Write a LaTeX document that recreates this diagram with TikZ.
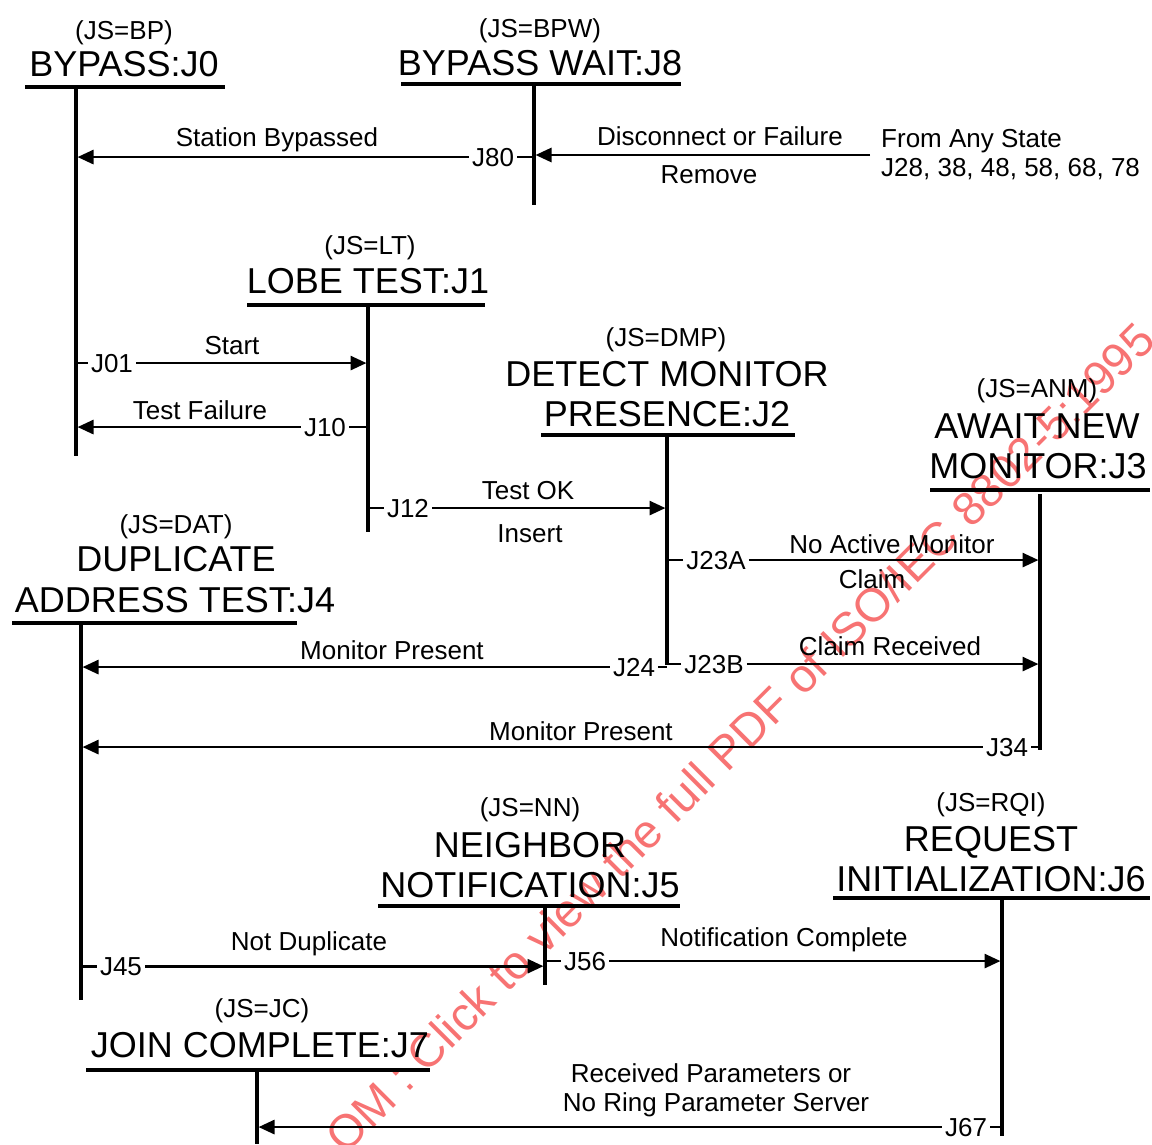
\documentclass[tikz,border=0pt]{standalone}
\usepackage{fontspec}
\setmainfont{Liberation Sans}
\usetikzlibrary{arrows.meta}
\definecolor{wm}{RGB}{245,80,80}
\begin{document}
\begin{tikzpicture}[x=1pt,y=-1pt,
  title/.style={font=\fontsize{36}{36}\selectfont, inner sep=0pt, anchor=base},
  lbl/.style={font=\fontsize{26}{26}\selectfont, inner sep=0pt, anchor=base},
  jl/.style={font=\fontsize{26}{26}\selectfont, inner sep=3pt, anchor=base},
  uline/.style={line width=3.8pt},
  life/.style={line width=3.2pt},
  tick/.style={line width=2.8pt},
  arr/.style={line width=2.8pt, -{Triangle[length=16pt,width=14pt]}, shorten >=1.5pt},
  wmark/.style={font=\fontsize{47}{47}\selectfont, inner sep=0pt, text=wm, text opacity=0.8, rotate=45, anchor=base east}]
\useasboundingbox (0,0) rectangle (1152,1144);
% watermark
\begin{scope}
\clip (0,0) rectangle (1152,1144);
\node[wmark] (wm) at (1158,343) {OM : Click to view the full PDF of ISO/IEC 8802-5:1995};
\end{scope}

% ---------- states ----------
% J0
\node[lbl]   (s0a) at (124,39) {(JS=BP)};
\node[title] (s0b) at (124,76) {BYPASS:J0};
\coordinate (u0a) at (25,87);  \coordinate (u0b) at (225,87);
\draw[uline] (u0a) -- (u0b);
\coordinate (l0a) at (76,87);  \coordinate (l0b) at (76,456);
\draw[life] (l0a) -- (l0b);
% J8
\node[lbl]   (s8a) at (540,37) {(JS=BPW)};
\node[title] (s8b) at (540,75) {BYPASS WAIT:J8};
\coordinate (u8a) at (401,84); \coordinate (u8b) at (681,84);
\draw[uline] (u8a) -- (u8b);
\coordinate (l8a) at (534,84); \coordinate (l8b) at (534,205);
\draw[life] (l8a) -- (l8b);
% J1
\node[lbl]   (s1a) at (370,254) {(JS=LT)};
\node[title] (s1b) at (368,293) {LOBE TEST:J1};
\coordinate (u1a) at (247,305); \coordinate (u1b) at (485,305);
\draw[uline] (u1a) -- (u1b);
\coordinate (l1a) at (368,305); \coordinate (l1b) at (368,532);
\draw[life] (l1a) -- (l1b);
% J2
\node[lbl]   (s2a) at (666,346) {(JS=DMP)};
\node[title] (s2b) at (667,386) {DETECT MONITOR};
\node[title] (s2c) at (667,426) {PRESENCE:J2};
\coordinate (u2a) at (541,435); \coordinate (u2b) at (795,435);
\draw[uline] (u2a) -- (u2b);
\coordinate (l2a) at (667,435); \coordinate (l2b) at (667,665);
\draw[life] (l2a) -- (l2b);
% J3
\node[lbl]   (s3a) at (1037,397) {(JS=ANM)};
\node[title] (s3b) at (1037,438) {AWAIT NEW};
\node[title] (s3c) at (1038,478) {MONITOR:J3};
\coordinate (u3a) at (930,490); \coordinate (u3b) at (1150,490);
\draw[uline] (u3a) -- (u3b);
\coordinate (l3a) at (1040,494); \coordinate (l3b) at (1040,750);
\draw[life] (l3a) -- (l3b);
% J4
\node[lbl]   (s4a) at (176,533) {(JS=DAT)};
\node[title] (s4b) at (176,571) {DUPLICATE};
\node[title] (s4c) at (175,612) {ADDRESS TEST:J4};
\coordinate (u4a) at (12,623); \coordinate (u4b) at (297,623);
\draw[uline] (u4a) -- (u4b);
\coordinate (l4a) at (81,623); \coordinate (l4b) at (81,1000);
\draw[life] (l4a) -- (l4b);
% J5
\node[lbl]   (s5a) at (530,816) {(JS=NN)};
\node[title] (s5b) at (530,857) {NEIGHBOR};
\node[title] (s5c) at (530,897) {NOTIFICATION:J5};
\coordinate (u5a) at (378,906); \coordinate (u5b) at (680,906);
\draw[uline] (u5a) -- (u5b);
\coordinate (l5a) at (545,906); \coordinate (l5b) at (545,985);
\draw[life] (l5a) -- (l5b);
% J6
\node[lbl]   (s6a) at (991,811) {(JS=RQI)};
\node[title] (s6b) at (991,851) {REQUEST};
\node[title] (s6c) at (991,891) {INITIALIZATION:J6};
\coordinate (u6a) at (833,898); \coordinate (u6b) at (1150,898);
\draw[uline] (u6a) -- (u6b);
\coordinate (l6a) at (1002,898); \coordinate (l6b) at (1002,1136);
\draw[life] (l6a) -- (l6b);
% J7
\node[lbl]   (s7a) at (262,1017) {(JS=JC)};
\node[title] (s7b) at (260,1057) {JOIN COMPLETE:J7};
\coordinate (u7a) at (86,1070); \coordinate (u7b) at (430,1070);
\draw[uline] (u7a) -- (u7b);
\coordinate (l7a) at (257,1070); \coordinate (l7b) at (257,1144);
\draw[life] (l7a) -- (l7b);

% ---------- transitions ----------
% J80
\node[jl] (j80) at (493,166) {J80};
\draw[tick] (j80.east) -- (j80.east -| l8a);
\draw[arr] (j80.west) -- (j80.west -| l0a);
\node[lbl] (t80) at (277,146) {Station Bypassed};
% from any state
\coordinate (dfrom) at (870,155);
\draw[arr] (dfrom) -- (dfrom -| l8a);
\node[lbl] (tdis) at (720,145) {Disconnect or Failure};
\node[lbl] (trem) at (709,183) {Remove};
\node[lbl, anchor=base west] (tany1) at (881,147) {From Any State};
\node[lbl, anchor=base west] (tany2) at (881,176) {J28, 38, 48, 58, 68, 78};
% J01
\node[jl] (j01) at (112,372) {J01};
\draw[tick] (j01.west) -- (j01.west -| l0a);
\draw[arr] (j01.east) -- (j01.east -| l1a);
\node[lbl] (t01) at (232,354) {Start};
% J10
\node[jl] (j10) at (325,436) {J10};
\draw[tick] (j10.east) -- (j10.east -| l1a);
\draw[arr] (j10.west) -- (j10.west -| l0a);
\node[lbl] (t10) at (200,419) {Test Failure};
% J12
\node[jl] (j12) at (408,517) {J12};
\draw[tick] (j12.west) -- (j12.west -| l1a);
\draw[arr] (j12.east) -- (j12.east -| l2a);
\node[lbl] (t12a) at (528,499) {Test OK};
\node[lbl] (t12b) at (530,542) {Insert};
% J23A
\node[jl] (j23a) at (716,569) {J23A};
\draw[tick] (j23a.west) -- (j23a.west -| l2a);
\draw[arr] (j23a.east) -- (j23a.east -| l3a);
\node[lbl] (t23a) at (892,553) {No Active Monitor};
\node[lbl] (t23b) at (872,588) {Claim};
% J23B
\node[jl] (j23b) at (714,673) {J23B};
\draw[tick] (j23b.west) -- (j23b.west -| l2a);
\draw[arr] (j23b.east) -- (j23b.east -| l3a);
\node[lbl] (t23c) at (890,655) {Claim Received};
% J24
\node[jl] (j24) at (634,676) {J24};
\draw[tick] (j24.east) -- (j24.east -| l2a);
\draw[arr] (j24.west) -- (j24.west -| l4a);
\node[lbl] (t24) at (392,659) {Monitor Present};
% J34
\node[jl] (j34) at (1007,756) {J34};
\draw[tick] (j34.east) -- (j34.east -| l3a);
\draw[arr] (j34.west) -- (j34.west -| l4a);
\node[lbl] (t34) at (581,740) {Monitor Present};
% J45
\node[jl] (j45) at (121,975) {J45};
\draw[tick] (j45.west) -- (j45.west -| l4a);
\draw[arr] (j45.east) -- (j45.east -| l5a);
\node[lbl] (t45) at (309,950) {Not Duplicate};
% J56
\node[jl] (j56) at (585,970) {J56};
\draw[tick] (j56.west) -- (j56.west -| l5a);
\draw[arr] (j56.east) -- (j56.east -| l6a);
\node[lbl] (t56) at (784,946) {Notification Complete};
% J67
\node[jl] (j67) at (966,1136) {J67};
\draw[tick] (j67.east) -- (j67.east -| l6a);
\draw[arr] (j67.west) -- (j67.west -| l7a);
\node[lbl] (t67a) at (711,1082) {Received Parameters or};
\node[lbl] (t67b) at (716,1111) {No Ring Parameter Server};
\end{tikzpicture}
\end{document}
